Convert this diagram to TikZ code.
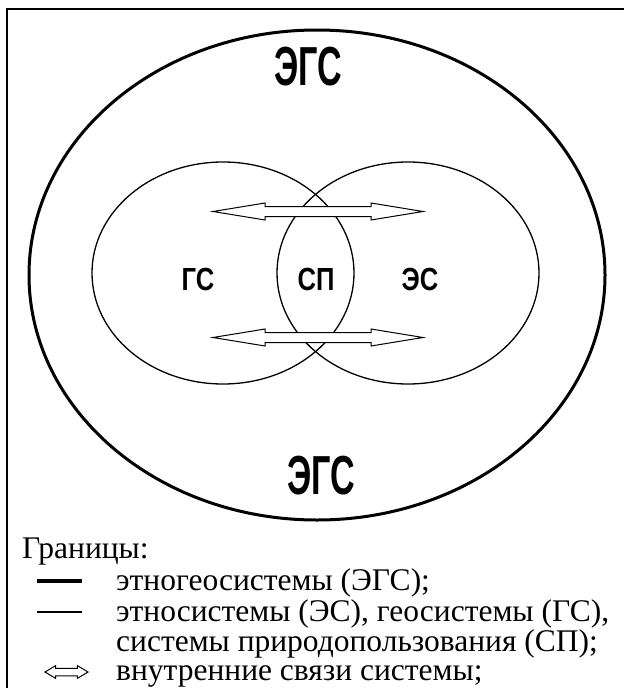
\documentclass[tikz,border=0pt]{standalone}
\usepackage{fontspec}
\setmainfont{Liberation Serif}
\newfontfamily\labfont{Liberation Sans}
\usetikzlibrary{shapes.geometric}
\begin{document}
\begin{tikzpicture}[x=1pt,y=-1pt,
  bigsys/.style={draw, ellipse, line width=3pt, inner sep=0pt, minimum width=576pt, minimum height=490pt},
  subsys/.style={draw, ellipse, line width=1.3pt, inner sep=0pt, minimum width=262pt, minimum height=222pt},
  biglab/.style={font=\labfont\bfseries\fontsize{55}{55}\selectfont, xscale=0.62, inner sep=0pt},
  smalllab/.style={font=\labfont\bfseries\fontsize{32}{32}\selectfont, xscale=0.8, inner sep=0pt},
  legtext/.style={font=\fontsize{31.5}{31.5}\selectfont, anchor=base west, inner sep=0pt, text height=20pt, text depth=4pt},
  dblarr/.pic={\draw[line width=1pt, line join=miter, fill=white]
     (-105,0) -- (-53,-8.5) -- (-53,-5) -- (53,-5) -- (53,-8.5) -- (105,0)
     -- (53,8.5) -- (53,5) -- (-53,5) -- (-53,8.5) -- cycle;}
]
\useasboundingbox (0,0) rectangle (624,688);
% frame
\coordinate (fbl) at (6.5,688);
\coordinate (ftl) at (6.5,8.5);
\coordinate (ftr) at (624,8.5);
\draw[line width=2pt] (fbl) -- (ftl) -- (ftr);
% systems
\node[bigsys] (egs) at (317,275) {};
\node[subsys] (gs) at (223,273) {};
\node[subsys] (es) at (408,273) {};
% arrows
\pic (arrtop) at (318,211.5) {dblarr};
\pic (arrbot) at (318,337.5) {dblarr};
% labels
\node[biglab] (egstop) at (308,67) {ЭГС};
\node[biglab] (egsbot) at (321,476) {ЭГС};
\node[smalllab] (gslab) at (198,279) {ГС};
\node[smalllab] (splab) at (316,279) {СП};
\node[smalllab] (eslab) at (420,279) {ЭС};
% legend
\node[legtext] (lhead) at (22,558) {Границы:};
\coordinate (thickA) at (37,581);
\coordinate (thickB) at (82,581);
\draw[line width=4pt] (thickA) -- (thickB);
\node[legtext] (l1) at (116,590) {этногеосистемы (ЭГС);};
\coordinate (thinA) at (37,612);
\coordinate (thinB) at (82,612);
\draw[line width=1.3pt] (thinA) -- (thinB);
\node[legtext] (l2) at (116,621) {этносистемы (ЭС), геосистемы (ГС),};
\node[legtext] (l3) at (116,651) {системы природопользования (СП);};
\pic[xscale=0.205, yscale=0.75] (legarr) at (66.5,672) {dblarr};
\node[legtext] (l4) at (116,680) {внутренние связи системы;};
\end{tikzpicture}
\end{document}
